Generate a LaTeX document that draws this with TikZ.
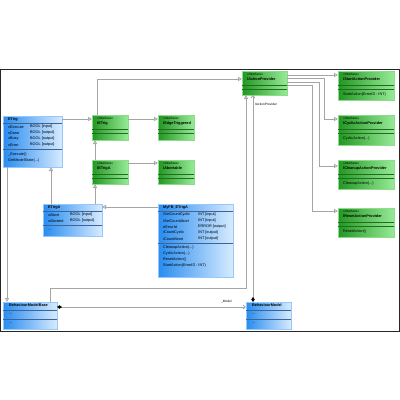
\documentclass[tikz,border=0pt]{standalone}
\usepackage{fontspec}
\setmainfont{Liberation Sans}
\usetikzlibrary{arrows.meta}
\definecolor{gdark}{RGB}{34,150,34}
\definecolor{glight}{RGB}{150,235,150}
\definecolor{gedge}{RGB}{140,220,140}
\definecolor{gsepc}{RGB}{30,110,30}
\definecolor{bdark}{RGB}{40,140,240}
\definecolor{blight}{RGB}{215,235,255}
\definecolor{bedge}{RGB}{150,200,250}
\definecolor{bsepc}{RGB}{60,100,150}
\definecolor{connc}{RGB}{165,165,165}
\begin{document}
\begin{tikzpicture}[x=1pt,y=-1pt,
 gbox/.style={draw=gedge, line width=0.5pt, left color=gdark, right color=glight, anchor=north west, inner sep=0pt, outer sep=0pt},
 bbox/.style={draw=bedge, line width=0.5pt, left color=bdark, right color=blight, anchor=north west, inner sep=0pt, outer sep=0pt},
 txt/.style={font=\fontsize{3.8}{4.5}\selectfont, anchor=west, inner sep=0pt},
 stereo/.style={font=\fontsize{3.2}{4}\selectfont, anchor=west, inner sep=0pt},
 ttl/.style={font=\fontsize{3.8}{4.5}\selectfont\bfseries, anchor=west, inner sep=0pt},
 gsep/.style={draw=gsepc, line width=0.5pt},
 bsep/.style={draw=bsepc, line width=0.5pt},
 conn/.style={draw=connc, line width=0.8pt},
 real/.style={conn, -{Triangle[open, length=4pt, width=4pt]}},
 compo/.style={conn, {Diamond[length=5pt, width=3.5pt, color=black]}-{Straight Barb[length=2.5pt, width=4pt]}},
]
\useasboundingbox (0,0) rectangle (400,400);
\draw[line width=1pt, black!85] (0.5,69) rectangle (399.5,331);

% ---------- green interfaces ----------
\node[gbox, minimum width=36pt, minimum height=25pt] (ietrig) at (92,115) {};
\node[gbox, minimum width=36pt, minimum height=25pt] (iedge) at (158,115) {};
\node[gbox, minimum width=36pt, minimum height=24pt] (ietriga) at (92,160) {};
\node[gbox, minimum width=36pt, minimum height=24pt] (iabort) at (158,160) {};
\node[gbox, minimum width=45pt, minimum height=24pt] (iact) at (242,71) {};
\node[gbox, minimum width=56pt, minimum height=29pt] (istart) at (338,71) {};
\node[gbox, minimum width=56pt, minimum height=30pt] (icyclic) at (338,115) {};
\node[gbox, minimum width=56pt, minimum height=29pt] (icleanup) at (338,160) {};
\node[gbox, minimum width=56pt, minimum height=29pt] (ireset) at (338,208) {};

\foreach \b/\n in {ietrig/IETrig, iedge/IEdgeTriggered, ietriga/IETrigA, iabort/IAbortable, iact/IActionProvider, istart/IStartActionProvider, icyclic/ICyclicActionProvider, icleanup/ICleanupActionProvider, ireset/IResetActionProvider}{
  \node[stereo] (\b-st) at ([xshift=5pt,yshift=-3.5pt]\b.north west) {<<Interface>>};
  \node[ttl] (\b-nm) at ([xshift=5pt,yshift=-8.5pt]\b.north west) {\n};
  \draw[gsep] ([yshift=-14pt]\b.north west) -- ([yshift=-14pt]\b.north east);
  \draw[gsep] ([yshift=-18pt]\b.north west) -- ([yshift=-18pt]\b.north east);
}
\node[txt] (istart-m) at ([xshift=5pt,yshift=-23.5pt]istart.north west) {StartAction(ErrorID : INT)};
\node[txt] (icyclic-m) at ([xshift=5pt,yshift=-23.5pt]icyclic.north west) {CyclicAction(...)};
\node[txt] (icleanup-m) at ([xshift=5pt,yshift=-23.5pt]icleanup.north west) {CleanupAction(...)};
\node[txt] (ireset-m) at ([xshift=5pt,yshift=-23.5pt]ireset.north west) {ResetAction()};

% ---------- blue classes ----------
\node[bbox, minimum width=59pt, minimum height=51pt] (etrig) at (3,116) {};
\node[ttl] (etrig-t) at (8,119.5) {ETrig};
\draw[bsep] ([yshift=-7pt]etrig.north west) -- ([yshift=-7pt]etrig.north east);
\node[txt] (etrig-a1) at (8,127) {xExecute};  \node[txt] (etrig-b1) at (30,127) {BOOL [input]};
\node[txt] (etrig-a2) at (8,133) {xDone};     \node[txt] (etrig-b2) at (30,133) {BOOL [output]};
\node[txt] (etrig-a3) at (8,139) {xBusy};     \node[txt] (etrig-b3) at (30,139) {BOOL [output]};
\node[txt] (etrig-a4) at (8,145) {xError};    \node[txt] (etrig-b4) at (30,145) {BOOL [output]};
\draw[bsep] ([yshift=-33pt]etrig.north west) -- ([yshift=-33pt]etrig.north east);
\node[txt] (etrig-m1) at (8,154.5) {\_Execute()};
\node[txt] (etrig-m2) at (8,160.5) {GetModelState(...)};

\node[bbox, minimum width=59pt, minimum height=32pt] (etriga) at (43,204) {};
\node[ttl] (etriga-t) at (48,207.5) {ETrigA};
\draw[bsep] ([yshift=-7pt]etriga.north west) -- ([yshift=-7pt]etriga.north east);
\node[txt] (etriga-a1) at (48,215) {xAbort};   \node[txt] (etriga-b1) at (70,215) {BOOL [input]};
\node[txt] (etriga-a2) at (48,221) {xAborted}; \node[txt] (etriga-b2) at (70,221) {BOOL [output]};
\draw[bsep] ([yshift=-21pt]etriga.north west) -- ([yshift=-21pt]etriga.north east);
\node[txt] (etriga-m1) at (48,230) {...};

\node[bbox, minimum width=75pt, minimum height=73pt] (myfb) at (158,204) {};
\node[ttl] (myfb-t) at (163,207.5) {MyFB\_ETrigA};
\draw[bsep] ([yshift=-7pt]myfb.north west) -- ([yshift=-7pt]myfb.north east);
\node[txt] (myfb-a1) at (163,215) {iSetCountCyclic}; \node[txt] (myfb-b1) at (198,215) {INT [input]};
\node[txt] (myfb-a2) at (163,221) {iSetCountAbort};  \node[txt] (myfb-b2) at (198,221) {INT [input]};
\node[txt] (myfb-a3) at (163,227) {eErrorId};        \node[txt] (myfb-b3) at (198,227) {ERROR [output]};
\node[txt] (myfb-a4) at (163,233) {iCountCyclic};    \node[txt] (myfb-b4) at (198,233) {INT [output]};
\node[txt] (myfb-a5) at (163,239) {iCountAbort};     \node[txt] (myfb-b5) at (198,239) {INT [output]};
\draw[bsep] ([yshift=-39pt]myfb.north west) -- ([yshift=-39pt]myfb.north east);
\node[txt] (myfb-m1) at (163,248) {CleanupAction(...)};
\node[txt] (myfb-m2) at (163,254) {CyclicAction(...)};
\node[txt] (myfb-m3) at (163,260) {ResetAction()};
\node[txt] (myfb-m4) at (163,266) {StartAction(ErrorID : INT)};

\node[bbox, minimum width=54pt, minimum height=27pt] (bmb) at (3,302) {};
\node[ttl] (bmb-t) at (9,305.5) {BehaviourModelBase};
\draw[bsep] ([yshift=-8pt]bmb.north west) -- ([yshift=-8pt]bmb.north east);
\node[txt] (bmb-a) at (9,314) {...};
\draw[bsep] ([yshift=-17pt]bmb.north west) -- ([yshift=-17pt]bmb.north east);
\node[txt] (bmb-m) at (9,323) {...};

\node[bbox, minimum width=45pt, minimum height=27pt] (bm) at (246,302) {};
\node[ttl] (bm-t) at (252,305.5) {BehaviourModel};
\draw[bsep] ([yshift=-8pt]bm.north west) -- ([yshift=-8pt]bm.north east);
\node[txt] (bm-a) at (252,314) {...};
\draw[bsep] ([yshift=-17pt]bm.north west) -- ([yshift=-17pt]bm.north east);
\node[txt] (bm-m) at (252,323) {...};

% ---------- connectors ----------
\draw[real] ([yshift=-3pt]etrig.north east) -- ([yshift=-4pt]ietrig.north west);
\draw[real] ([yshift=-4pt]ietrig.north east) -- ([yshift=-4pt]iedge.north west);
\draw[real] ([yshift=-3pt]ietriga.north east) -- ([yshift=-3pt]iabort.north west);
\draw[real] ([xshift=3pt]ietriga.north west) -- ([xshift=3pt]ietrig.south west);
\draw[real] ([xshift=5pt]ietrig.north west) |- ([yshift=-8pt]iact.north west);
\draw[real] ([xshift=8pt]etriga.north west) -- ([xshift=48pt]etrig.south west);
\draw[real] ([xshift=52pt]etriga.north west) -- ([xshift=3pt]ietriga.south west);
\draw[real] ([yshift=-3pt]myfb.north west) -- ([yshift=-3pt]etriga.north east);
\draw[real] ([xshift=4pt]etrig.south west) -- ([xshift=4pt]bmb.north west);
\coordinate (bend) at (50,288);
\draw[real] ([xshift=47pt]bmb.north west) -- (bend) -| ([xshift=4pt]iact.south west);
\draw[compo] ([xshift=7pt]bm.north west) -- ([xshift=11pt]iact.south west);
\node[txt, font=\fontsize{3.2}{4}\selectfont] (lbl-ia) at (255,104) {IActionProvider};
\draw[compo] ([yshift=-5pt]bmb.north east) -- ([yshift=-5pt]bm.north west);
\node[txt, font=\fontsize{3.2}{4}\selectfont] (lbl-m) at (221,302) {\_Model};
\draw[real] ([yshift=-4pt]iact.north east) -- ([yshift=-4pt]istart.north west);
\draw[real] ([yshift=-7pt]iact.north east) -- ++(37,0) |- ([yshift=-4pt]icyclic.north west);
\draw[real] ([yshift=-11pt]iact.north east) -- ++(32,0) |- ([yshift=-6pt]icleanup.north west);
\draw[real] ([yshift=-14pt]iact.north east) -- ++(25,0) |- ([yshift=-3pt]ireset.north west);
\end{tikzpicture}
\end{document}
